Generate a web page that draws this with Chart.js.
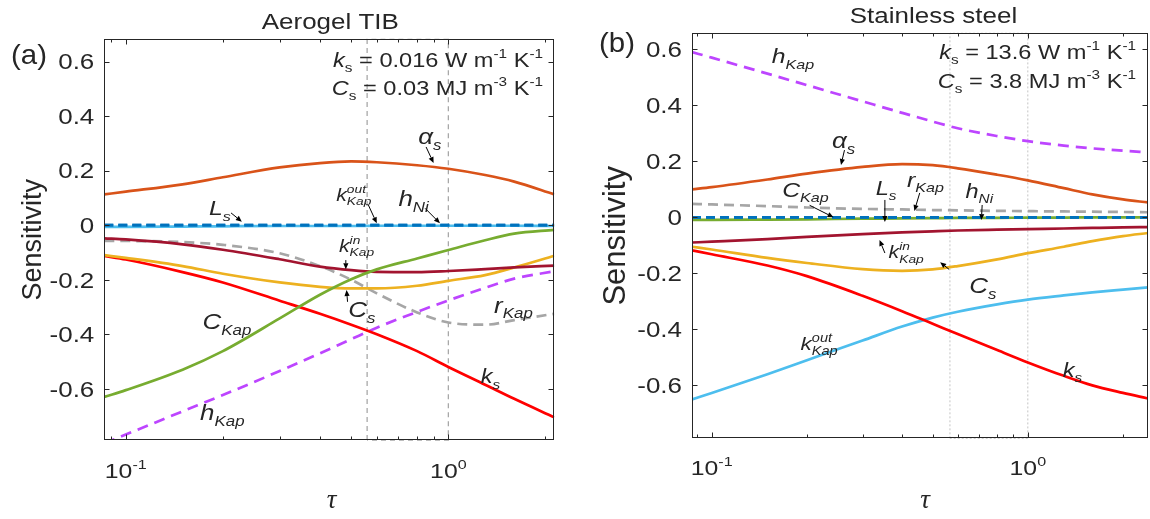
<!DOCTYPE html>
<html>
<head>
<meta charset="utf-8">
<script src="https://cdn.jsdelivr.net/npm/chart.js@4.4.0/dist/chart.umd.min.js"></script>
<style>
  html, body { margin: 0; padding: 0; background: #fff; }
  #wrap { position: relative; width: 1150px; height: 519px; }
  .panel { position: absolute; top: 0; width: 575px; height: 519px; }
</style>
</head>
<body>
<div id="wrap">
  <div class="panel" style="left:0"><canvas id="chart-a"></canvas></div>
  <div class="panel" style="left:575px"><canvas id="chart-b"></canvas></div>
</div>
<script>
// ---- panel (a): Aerogel TIB ----
const tauA   = [0.0858, 0.1, 0.15, 0.2, 0.3, 0.4, 0.5, 0.6, 0.8, 1.0, 1.3, 1.6, 2.13];
const alphaA = [0.113, 0.123, 0.15, 0.176, 0.212, 0.228, 0.234, 0.231, 0.22, 0.207, 0.184, 0.16, 0.113];
const LsA    = [0, 0, 0, 0, 0, 0, 0, 0, 0, 0, 0, 0, 0];
const hNiA   = [0, 0, 0, 0, 0, 0, 0, 0, 0, 0, 0, 0, 0];
const kOutA  = [-0.006, -0.006, -0.005, -0.004, -0.003, -0.003, -0.003, -0.002, -0.002, -0.002, -0.002, -0.002, -0.003];
const kInA   = [-0.048, -0.052, -0.07, -0.09, -0.125, -0.152, -0.165, -0.171, -0.172, -0.168, -0.161, -0.155, -0.148];
const CsA    = [-0.11, -0.12, -0.15, -0.178, -0.21, -0.226, -0.232, -0.232, -0.222, -0.204, -0.183, -0.155, -0.112];
const kSA    = [-0.113, -0.126, -0.172, -0.21, -0.277, -0.325, -0.365, -0.4, -0.462, -0.52, -0.585, -0.637, -0.705];
const CKapA  = [-0.63, -0.605, -0.53, -0.462, -0.342, -0.255, -0.198, -0.162, -0.122, -0.091, -0.055, -0.031, -0.017];
const rKapA  = [-0.058, -0.058, -0.062, -0.072, -0.103, -0.15, -0.2, -0.25, -0.32, -0.357, -0.365, -0.348, -0.325];
const hKapA  = [-0.80, -0.768, -0.683, -0.623, -0.535, -0.47, -0.418, -0.376, -0.318, -0.276, -0.23, -0.196, -0.169];

// ---- panel (b): Stainless steel ----
const tauB   = [0.0866, 0.1, 0.15, 0.2, 0.3, 0.4, 0.5, 0.6, 0.8, 1.0, 1.3, 1.6, 2.0, 2.4];
const hKapB  = [0.59, 0.57, 0.513, 0.472, 0.414, 0.373, 0.342, 0.318, 0.29, 0.272, 0.256, 0.246, 0.238, 0.232];
const alphaB = [0.10, 0.108, 0.135, 0.156, 0.18, 0.19, 0.186, 0.175, 0.152, 0.132, 0.104, 0.082, 0.064, 0.053];
const rKapB  = [0.048, 0.046, 0.04, 0.035, 0.03, 0.028, 0.026, 0.025, 0.023, 0.022, 0.021, 0.02, 0.019, 0.018];
const CKapB  = [-0.009, -0.009, -0.008, -0.007, -0.005, -0.004, -0.003, -0.002, -0.002, -0.001, -0.001, 0, 0, 0];
const LsB    = [0, 0, 0, 0, 0, 0, 0, 0, 0, 0, 0, 0, 0, 0];
const hNiB   = [0, 0, 0, 0, 0, 0, 0, 0, 0, 0, 0, 0, 0, 0];
const kInB   = [-0.09, -0.087, -0.078, -0.07, -0.06, -0.054, -0.05, -0.047, -0.044, -0.042, -0.04, -0.038, -0.036, -0.035];
const CsB    = [-0.105, -0.115, -0.145, -0.163, -0.185, -0.191, -0.186, -0.174, -0.15, -0.128, -0.105, -0.085, -0.067, -0.056];
const kSB    = [-0.118, -0.132, -0.172, -0.21, -0.28, -0.335, -0.38, -0.417, -0.474, -0.518, -0.566, -0.6, -0.627, -0.647];
const kOutB  = [-0.65, -0.627, -0.56, -0.51, -0.44, -0.39, -0.358, -0.337, -0.311, -0.294, -0.279, -0.268, -0.258, -0.25];

// axis ranges, tick values, marked window
const xRangeA = [0.0858, 2.13], yRangeA = [-0.788, 0.682];
const xRangeB = [0.0866, 2.40], yRangeB = [-0.789, 0.657];
const yTickVals = [-0.6, -0.4, -0.2, 0, 0.2, 0.4, 0.6];
const xMajorVals = [0.1, 1];
const xMinorVals = [0.09, 0.2, 0.3, 0.4, 0.5, 0.6, 0.7, 0.8, 0.9, 2];
const windowA = [0.56, 1.0];
const windowB = [0.567, 1.0];

const INK = '#262626';
const SX = 1.18; // the figure is stretched sideways a bit
const SANS = '"Liberation Sans", Arial, Helvetica, sans-serif';
const SERIF = '"Liberation Serif", "Times New Roman", serif';

function series(tau, vals, color, dash) {
  return {
    data: tau.map((t, i) => ({ x: t, y: vals[i] })),
    borderColor: color, borderWidth: 2.7, borderDash: dash || [],
    pointRadius: 0, fill: false, cubicInterpolationMode: 'monotone', clip: 0
  };
}

function windowBox(win, yr, color, dash, width) {
  const pts = [[win[0], yr[0]], [win[0], yr[1]], [win[1], yr[1]], [win[1], yr[0]], [win[0], yr[0]]];
  return {
    data: pts.map(p => ({ x: p[0], y: p[1] })),
    borderColor: color, borderWidth: width, borderDash: dash,
    pointRadius: 0, fill: false, tension: 0, clip: 2
  };
}

// draw runs of text with sub/superscripts; stack:true puts a run under the previous one
function rich(ctx, segs, x, y, size, align) {
  let pos = 0;
  const parts = segs.map(s => {
    const sz = (s.sub || s.sup) ? size * 0.65 : size;
    const font = (s.i ? 'italic ' : '') + sz + 'px ' + (s.serif ? SERIF : SANS);
    ctx.font = font;
    const w = ctx.measureText(s.t).width * SX;
    return { s, font, w, dy: s.sub ? size * 0.26 : (s.sup ? -size * 0.43 : 0) };
  });
  parts.forEach((p, k) => {
    if (p.s.stack && k > 0) {
      p.x = parts[k - 1].x;
      pos = Math.max(pos, p.x + p.w);
    } else {
      p.x = pos;
      pos += p.w;
    }
  });
  let x0 = x;
  if (align === 'center') x0 = x - pos / 2;
  else if (align === 'right') x0 = x - pos;
  parts.forEach(p => {
    ctx.save();
    ctx.font = p.font;
    ctx.fillStyle = INK;
    ctx.textAlign = 'left';
    ctx.textBaseline = 'alphabetic';
    ctx.translate(x0 + p.x, y + p.dy);
    ctx.scale(SX, 1);
    ctx.fillText(p.s.t, 0, 0);
    ctx.restore();
  });
}

function arrow(ctx, x1, y1, x2, y2) {
  const ang = Math.atan2(y2 - y1, x2 - x1), hl = 6, hw = 2.6;
  ctx.save();
  ctx.strokeStyle = '#000'; ctx.fillStyle = '#000'; ctx.lineWidth = 1;
  ctx.beginPath();
  ctx.moveTo(x1, y1);
  ctx.lineTo(x2 - hl * Math.cos(ang), y2 - hl * Math.sin(ang));
  ctx.stroke();
  ctx.beginPath();
  ctx.moveTo(x2, y2);
  ctx.lineTo(x2 - hl * Math.cos(ang) + hw * Math.sin(ang), y2 - hl * Math.sin(ang) - hw * Math.cos(ang));
  ctx.lineTo(x2 - hl * Math.cos(ang) - hw * Math.sin(ang), y2 - hl * Math.sin(ang) + hw * Math.cos(ang));
  ctx.closePath();
  ctx.fill();
  ctx.restore();
}

function lbl(main, sub, sup, size) {
  const segs = [{ t: main, i: 1 }];
  if (sup) segs.push({ t: sup, i: 1, sup: 1 });
  if (sub) segs.push({ t: sub, i: 1, sub: 1, stack: !!sup });
  return { segs, size };
}

function decor(p) {
  return {
    id: 'decor',
    afterDraw(chart) {
      const ctx = chart.ctx, a = chart.chartArea;
      const xs = chart.scales.x, ys = chart.scales.y;
      const L = Math.round(a.left) + 0.5, R = Math.round(a.right) - 0.5;
      const T = Math.round(a.top) + 0.5, B = Math.round(a.bottom) - 0.5;
      ctx.save();
      ctx.strokeStyle = INK; ctx.lineWidth = 1;
      ctx.strokeRect(L, T, R - L, B - T);
      ctx.beginPath();
      yTickVals.forEach(v => {
        const py = Math.round(ys.getPixelForValue(v)) + 0.5;
        ctx.moveTo(L, py); ctx.lineTo(L + 5, py);
        ctx.moveTo(R, py); ctx.lineTo(R - 5, py);
      });
      const xt = (vals, len) => vals.forEach(v => {
        if (v < xs.min || v > xs.max) return;
        const px = Math.round(xs.getPixelForValue(v)) + 0.5;
        ctx.moveTo(px, B); ctx.lineTo(px, B - len);
        ctx.moveTo(px, T); ctx.lineTo(px, T + len);
      });
      xt(xMajorVals, 5);
      xt(xMinorVals, 3);
      ctx.stroke();
      ctx.restore();

      // y tick labels
      yTickVals.forEach(v => {
        const py = ys.getPixelForValue(v);
        rich(ctx, [{ t: v === 0 ? '0' : v.toFixed(1) }], a.left - 10, py + 7.8, 22, 'right');
      });
      // x tick labels
      xMajorVals.forEach(v => {
        const px = xs.getPixelForValue(v);
        const e = Math.round(Math.log10(v));
        rich(ctx, [{ t: '10' }, { t: String(e), sup: 1 }], px, a.bottom + p.xLabDy, 21, 'center');
      });

      const midX = (a.left + a.right) / 2, midY = (a.top + a.bottom) / 2;
      // panel title and letter
      rich(ctx, [{ t: p.title }], midX + p.titleDx, a.top + p.titleDy, 22, 'center');
      ctx.save();
      ctx.font = '28px ' + SANS; ctx.fillStyle = INK; ctx.textBaseline = 'alphabetic';
      ctx.translate(a.left + p.letterDx, a.top + p.letterDy); ctx.scale(1.05, 1);
      ctx.fillText(p.letter, 0, 0);
      ctx.restore();
      // axis titles
      ctx.save();
      ctx.font = p.yTitleSize + 'px ' + SANS; ctx.fillStyle = INK;
      ctx.textAlign = 'center'; ctx.textBaseline = 'alphabetic';
      ctx.translate(a.left + p.yTitleDx, midY);
      ctx.rotate(-Math.PI / 2);
      ctx.fillText('Sensitivity', 0, 0);
      ctx.restore();
      ctx.save();
      ctx.font = 'italic 27px ' + SERIF; ctx.fillStyle = INK;
      ctx.textAlign = 'center'; ctx.textBaseline = 'alphabetic';
      ctx.fillText('τ', midX + p.xTitleDx, a.bottom + p.xTitleDy);
      ctx.restore();

      // parameter box text
      p.params.forEach(q => {
        rich(ctx, q.segs, xs.getPixelForValue(q.at[0]), ys.getPixelForValue(q.at[1]), 20, 'right');
      });
      // curve labels and arrows
      p.notes.forEach(n => {
        if (n.segs) rich(ctx, n.segs, xs.getPixelForValue(n.at[0]), ys.getPixelForValue(n.at[1]), n.size, 'left');
        if (n.arrow) {
          const [s, e] = n.arrow;
          arrow(ctx, xs.getPixelForValue(s[0]), ys.getPixelForValue(s[1]),
                     xs.getPixelForValue(e[0]), ys.getPixelForValue(e[1]));
        }
      });
    }
  };
}

function param(sym, txt, unit) {
  return [{ t: sym, i: 1 }, { t: 's', sub: 1 }, { t: txt }, { t: unit, sup: 1 }, { t: ' K' }, { t: '-1', sup: 1 }];
}

function makePanel(id, p) {
  new Chart(document.getElementById(id), {
    type: 'line',
    data: { datasets: p.datasets },
    options: {
      responsive: true, maintainAspectRatio: false, animation: false, devicePixelRatio: 1,
      layout: { padding: p.pad },
      scales: {
        x: { type: 'logarithmic', min: p.xr[0], max: p.xr[1], display: false },
        y: { type: 'linear', min: p.yr[0], max: p.yr[1], display: false }
      },
      plugins: { legend: { display: false }, tooltip: { enabled: false } },
      elements: { point: { radius: 0 } }
    },
    plugins: [decor(p)]
  });
}

const C = {
  alpha: '#D95319', ks: '#FF0000', Cs: '#EDB120', kIn: '#A2142F', CKap: '#77AC30',
  kOut: '#4DBEEE', Ls: '#0072BD', hNi: '#0072BD', hKap: '#BD45FF', rKap: '#A6A6A6'
};

makePanel('chart-a', {
  xr: xRangeA, yr: yRangeA,
  pad: { left: 104.3, top: 39.3, right: 20.7, bottom: 79 },
  datasets: [
    series(tauA, LsA, C.Ls, [9, 5]),
    series(tauA, hNiA, C.hNi, [9, 5]),
    series(tauA, kOutA, C.kOut),
    series(tauA, CKapA, C.CKap),
    series(tauA, kInA, C.kIn),
    series(tauA, CsA, C.Cs),
    series(tauA, kSA, C.ks),
    series(tauA, rKapA, C.rKap, [10, 6]),
    series(tauA, hKapA, C.hKap, [11, 7]),
    series(tauA, alphaA, C.alpha),
    windowBox(windowA, yRangeA, '#a8a8a8', [5, 4], 1.3)
  ],
  title: 'Aerogel TIB', titleDx: 1, titleDy: -10,
  letter: '(a)', letterDx: -93.3, letterDy: 24.2,
  yTitleSize: 27, yTitleDx: -63.6,
  xTitleDx: 2.4, xTitleDy: 68, xLabDy: 38.3,
  params: [
    { segs: param('k', ' = 0.016 W m', '-1'), at: [1.966, 0.5805] },
    { segs: param('C', ' = 0.03 MJ m', '-3'), at: [1.966, 0.4778] }
  ],
  notes: [
    Object.assign(lbl('α', 's', null, 22), { at: [0.806, 0.298], arrow: [[0.853, 0.287], [0.900, 0.228]] }),
    Object.assign(lbl('L', 's', null, 21), { at: [0.181, 0.037], arrow: [[0.212, 0.045], [0.229, 0.013]] }),
    Object.assign(lbl('k', 'Kap', 'out', 18), { at: [0.449, 0.09], arrow: [[0.565, 0.074], [0.600, 0.007]] }),
    Object.assign(lbl('h', 'Ni', null, 22), { at: [0.700, 0.070], arrow: [[0.847, 0.062], [0.942, 0.007]] }),
    Object.assign(lbl('k', 'Kap', 'in', 18), { at: [0.458, -0.097], arrow: [[0.481, -0.128], [0.481, -0.162]] }),
    Object.assign(lbl('C', 's', null, 22), { at: [0.489, -0.336], arrow: [[0.487, -0.281], [0.4835, -0.238]] }),
    Object.assign(lbl('r', 'Kap', null, 22), { at: [1.386, -0.321] }),
    Object.assign(lbl('C', 'Kap', null, 22), { at: [0.173, -0.381] }),
    Object.assign(lbl('k', 's', null, 20), { at: [1.26, -0.58] }),
    Object.assign(lbl('h', 'Kap', null, 22), { at: [0.170, -0.715] })
  ]
});

makePanel('chart-b', {
  xr: xRangeB, yr: yRangeB,
  pad: { left: 117, top: 33.3, right: 2, bottom: 80.7 },
  datasets: [
    series(tauB, hKapB, C.hKap, [11, 7]),
    series(tauB, alphaB, C.alpha),
    series(tauB, LsB, C.Ls, [9, 5]),
    series(tauB, hNiB, C.hNi, [9, 5]),
    series(tauB, rKapB, C.rKap, [10, 6]),
    series(tauB, CKapB, C.CKap),
    series(tauB, kInB, C.kIn),
    series(tauB, CsB, C.Cs),
    series(tauB, kSB, C.ks),
    series(tauB, kOutB, C.kOut),
    windowBox(windowB, yRangeB, '#c4c4c4', [2, 2], 1)
  ],
  title: 'Stainless steel', titleDx: 13.5, titleDy: -10.3,
  letter: '(b)', letterDx: -93, letterDy: 18.4,
  yTitleSize: 31, yTitleDx: -67.5,
  xTitleDx: 5, xTitleDy: 69.7, xLabDy: 36.7,
  params: [
    { segs: param('k', ' = 13.6 W m', '-1'), at: [2.20, 0.565] },
    { segs: param('C', ' = 3.8 MJ m', '-3'), at: [2.20, 0.4618] }
  ],
  notes: [
    Object.assign(lbl('h', 'Kap', null, 21), { at: [0.1549, 0.55] }),
    Object.assign(lbl('α', 's', null, 22), { at: [0.240, 0.2475], arrow: [[0.263, 0.240], [0.2564, 0.187]] }),
    Object.assign(lbl('C', 'Kap', null, 21), { at: [0.167, 0.0736], arrow: [[0.204, 0.043], [0.2428, 0.0]] }),
    Object.assign(lbl('L', 's', null, 20), { at: [0.330, 0.08], arrow: [[0.353, 0.062], [0.353, -0.017]] }),
    Object.assign(lbl('r', 'Kap', null, 21), { at: [0.415, 0.109], arrow: [[0.455, 0.087], [0.4375, 0.0225]] }),
    Object.assign(lbl('h', 'Ni', null, 20), { at: [0.635, 0.068], arrow: [[0.717, 0.044], [0.713, -0.0096]] }),
    Object.assign(lbl('k', 'Kap', 'in', 18), { at: [0.3626, -0.145], arrow: [[0.353, -0.1275], [0.3395, -0.081]] }),
    { arrow: [[0.5636, -0.186], [0.528, -0.160]] },
    Object.assign(lbl('C', 's', null, 22), { at: [0.653, -0.270] }),
    Object.assign(lbl('k', 'Kap', 'out', 19), { at: [0.191, -0.474] }),
    Object.assign(lbl('k', 's', null, 20), { at: [1.29, -0.569] })
  ]
});
</script>
</body>
</html>
